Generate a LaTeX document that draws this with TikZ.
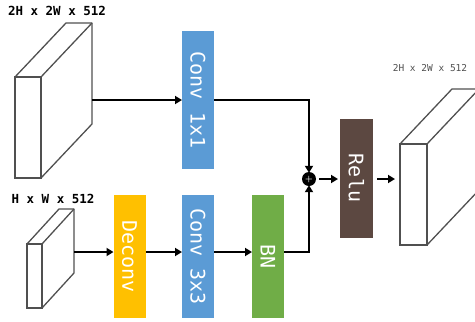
\documentclass[tikz,border=0pt]{standalone}
\usepackage{fontspec}
\setmonofont{DejaVu Sans Mono}
\usetikzlibrary{arrows.meta,calc}
\definecolor{convblue}{HTML}{5B9BD5}
\definecolor{deconvyellow}{HTML}{FFC000}
\definecolor{bngreen}{HTML}{70AD47}
\definecolor{relubrown}{HTML}{5C4841}
\definecolor{cubegray}{HTML}{505050}
\newcommand{\vtext}[1]{\rotatebox{-90}{#1}}
\begin{document}
\begin{tikzpicture}[x=1pt,y=-1pt,
  layerbox/.style={rectangle,inner sep=0pt,outer sep=0pt,minimum width=32pt,minimum height=123pt,
    text=white,font=\ttfamily\fontsize{20}{20}\selectfont},
  cubefront/.style={rectangle,draw=cubegray,line width=1.3pt,fill=white,inner sep=0pt,outer sep=0pt},
  cubeline/.style={draw=cubegray,line width=1.3pt,line join=round},
  arr/.style={line width=2.2pt,-{Triangle[length=7pt,width=8pt]}},
  dimlabel/.style={font=\ttfamily\bfseries\fontsize{12.5}{12.5}\selectfont,inner sep=0pt},
]
\useasboundingbox (0,0) rectangle (475,322);
\clip (0,0) rectangle (475,322);

% labels
\node[dimlabel] (l1) at (57,11) {2H x 2W x 512};
\node[dimlabel] (l2) at (53,199) {H x W x 512};
\node[font=\ttfamily\fontsize{9.5}{9.5}\selectfont,text=cubegray,inner sep=0pt] (l3) at (430,68) {2H x 2W x 512};

% top-left cuboid
\node[cubefront,minimum width=26pt,minimum height=101pt] (c1) at (28,127.5) {};
\draw[cubeline] (c1.north west) -- ([shift={(51,-54)}]c1.north west) -- ([shift={(51,-54)}]c1.north east)
  -- ([shift={(51,-54)}]c1.south east) -- (c1.south east);
\draw[cubeline] (c1.north east) -- ([shift={(51,-54)}]c1.north east);
\coordinate (c1r) at (92,100);

% bottom-left cuboid
\node[cubefront,minimum width=15pt,minimum height=64pt] (c2) at (34.5,276) {};
\draw[cubeline] (c2.north west) -- ([shift={(32,-35)}]c2.north west) -- ([shift={(32,-35)}]c2.north east)
  -- ([shift={(32,-35)}]c2.south east) -- (c2.south east);
\draw[cubeline] (c2.north east) -- ([shift={(32,-35)}]c2.north east);
\coordinate (c2r) at (74,252);

% right cuboid
\node[cubefront,minimum width=27pt,minimum height=101pt] (c3) at (413.5,194.5) {};
\draw[cubeline] (c3.north west) -- ([shift={(52,-55)}]c3.north west) -- ([shift={(52,-55)}]c3.north east)
  -- ([shift={(52,-55)}]c3.south east) -- (c3.south east);
\draw[cubeline] (c3.north east) -- ([shift={(52,-55)}]c3.north east);

% layer boxes
\node[layerbox,fill=convblue,minimum height=138pt] (conv1) at (198,100) {\vtext{Conv 1x1}};
\node[layerbox,fill=deconvyellow] (deconv) at (129.5,256.5) {\vtext{Deconv}};
\node[layerbox,fill=convblue] (conv3) at (198,256.5) {\vtext{Conv 3x3}};
\node[layerbox,fill=bngreen] (bn) at (268,256.5) {\vtext{BN}};
\node[layerbox,fill=relubrown,minimum height=119pt,minimum width=33pt] (relu) at (356.5,178) {\vtext{Relu}};

% sum
\node[circle,fill=black,minimum size=14pt,inner sep=0pt,text=white,font=\bfseries\fontsize{8}{8}\selectfont] (plus) at (309,179) {+};

% connectors
\draw[arr] (c1r) -- (c1r -| conv1.west);
\draw[arr] (conv1.east |- c1r) -| ([yshift=-1pt]plus.north);
\draw[arr] (c2r) -- (c2r -| deconv.west);
\draw[arr] (deconv.east |- c2r) -- (conv3.west |- c2r);
\draw[arr] (conv3.east |- c2r) -- (bn.west |- c2r);
\draw[arr] (bn.east |- c2r) -| ([yshift=1pt]plus.south);
\draw[arr,shorten <=3pt,shorten >=2pt] (plus.east) -- (plus.east -| relu.west);
\draw[arr,shorten <=4pt,shorten >=5pt] (relu.east |- plus.east) -- (plus.east -| c3.west);
\end{tikzpicture}
\end{document}
